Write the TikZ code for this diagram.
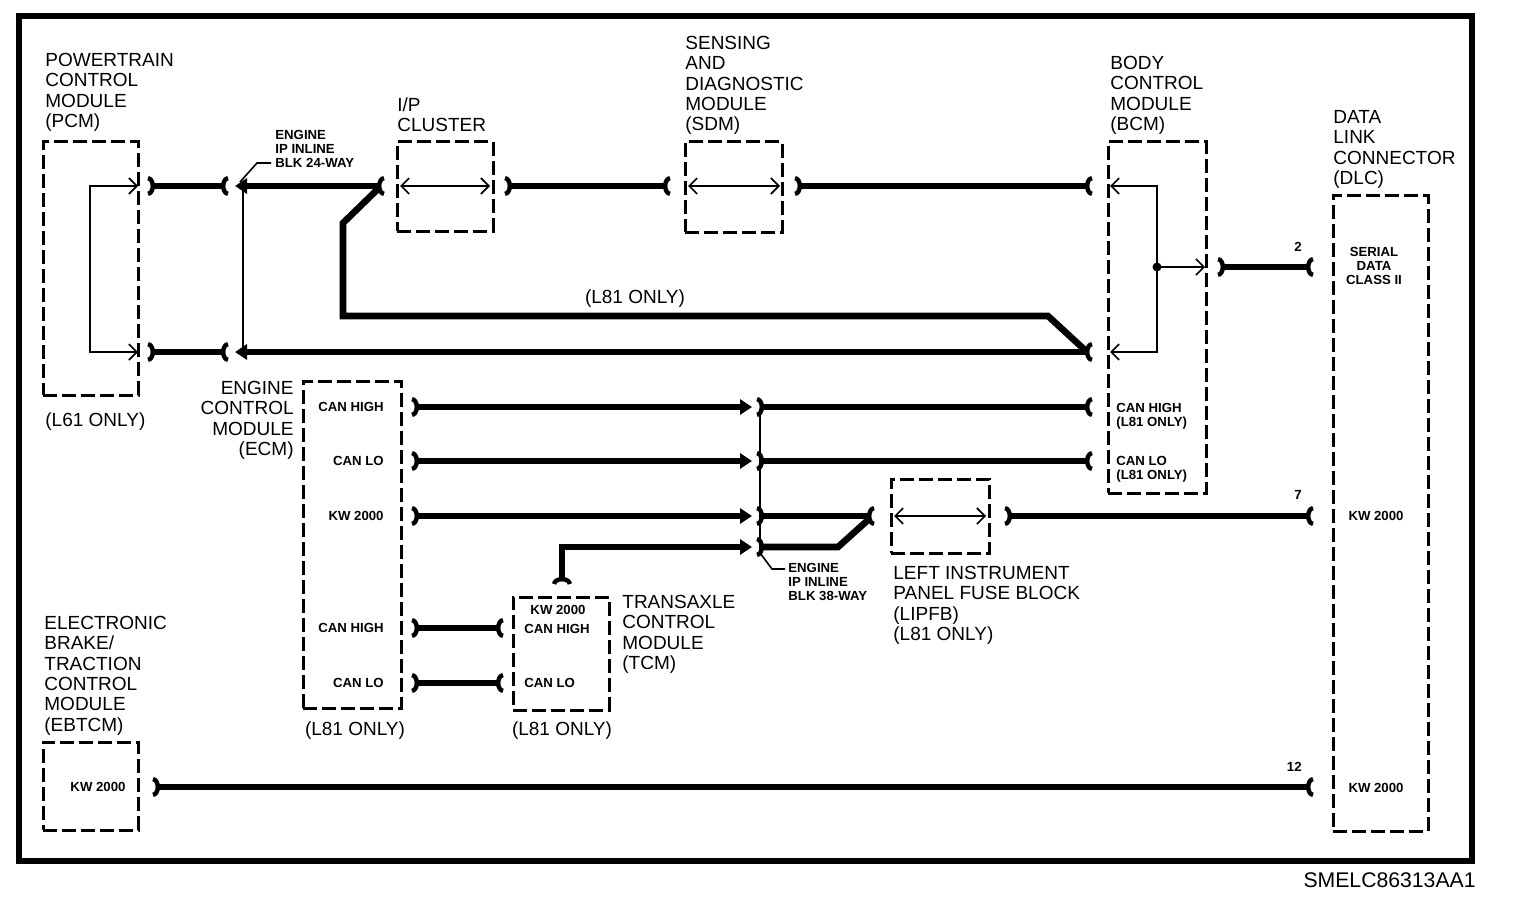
\documentclass[tikz,border=0pt]{standalone}
\usepackage{fontspec}
\setmainfont{Liberation Sans}
\usetikzlibrary{arrows.meta}
\tikzset{>=latex}
\tikzset{fork/.tip={Arc Barb[reversed,length=3.5pt,width=10pt,line width=2.2pt]}}
\tikzset{plug/.tip={Triangle[length=6pt,width=7.5pt]}}
\tikzset{barb/.tip={Straight Barb[length=4pt,width=8pt,line width=0.8pt]}}
\tikzstyle{module}=[rectangle,draw,line width=1.5pt,dash pattern=on 7pt off 2.5pt,inner sep=0pt]
\tikzstyle{wire}=[line width=3.3pt]
\tikzstyle{signal}=[line width=0.8pt]
\tikzstyle{head}=[inner sep=0pt,align=left,font=\fontsize{9.5}{10.15}\selectfont]
\tikzstyle{pinlabel}=[inner sep=0pt,align=left,font=\fontsize{6.6}{7}\selectfont\bfseries]
\tikzstyle{dot}=[circle,fill,inner sep=0pt,minimum size=4.5pt]

\begin{document}
\begin{tikzpicture}[x=0.5pt,y=-0.5pt]
	\useasboundingbox (0,0) rectangle (1520,904);
	\draw[line width=3pt] (19,16) rectangle (1472,861);
	\node[anchor=east,inner sep=0pt,font=\fontsize{10.6}{12}\selectfont] (code) at (1476,880) {SMELC86313AA1};

	\node[module,minimum width=47.5pt,minimum height=126.5pt] (pcm) at (90.5,268.5) {};
	\node[module,minimum width=48pt,minimum height=44.5pt] (ipc) at (445,186.5) {};
	\node[module,minimum width=48.5pt,minimum height=45pt] (sdm) at (733.5,187) {};
	\node[module,minimum width=49pt,minimum height=175.5pt] (bcm) at (1157,317.5) {};
	\node[module,minimum width=47.5pt,minimum height=318pt] (dlc) at (1380.5,513) {};
	\node[module,minimum width=49pt,minimum height=163.5pt] (ecm) at (352,544.5) {};
	\node[module,minimum width=48pt,minimum height=56.5pt] (tcm) at (561,653.5) {};
	\node[module,minimum width=49pt,minimum height=37pt] (lipfb) at (940,516) {};
	\node[module,minimum width=47.5pt,minimum height=44pt] (ebtcm) at (90.5,786) {};

	\node[head,anchor=north west] (pcmname) at (45,53) {POWERTRAIN\\CONTROL\\MODULE\\(PCM)};
	\node[head,anchor=north west] (pcmnote) at (45,412) {(L61 ONLY)};
	\node[head,anchor=north west] (ipcname) at (397,97) {I/P\\CLUSTER};
	\node[head,anchor=north west] (sdmname) at (685,36) {SENSING\\AND\\DIAGNOSTIC\\MODULE\\(SDM)};
	\node[head,anchor=north west] (bcmname) at (1110,56) {BODY\\CONTROL\\MODULE\\(BCM)};
	\node[head,anchor=north west] (dlcname) at (1333,110) {DATA\\LINK\\CONNECTOR\\(DLC)};
	\node[head,anchor=north east,align=right] (ecmname) at (294,381) {ENGINE\\CONTROL\\MODULE\\(ECM)};
	\node[head,anchor=north] (ecmnote) at (355,721) {(L81 ONLY)};
	\node[head,anchor=north west] (tcmname) at (622,595) {TRANSAXLE\\CONTROL\\MODULE\\(TCM)};
	\node[head,anchor=north] (tcmnote) at (562,721) {(L81 ONLY)};
	\node[head,anchor=north west] (lipname) at (893,566) {LEFT INSTRUMENT\\PANEL FUSE BLOCK\\(LIPFB)\\(L81 ONLY)};
	\node[head,anchor=north west] (ebtcmname) at (44,616) {ELECTRONIC\\BRAKE/\\TRACTION\\CONTROL\\MODULE\\(EBTCM)};
	\node[head,anchor=north] (l81note) at (635,289) {(L81 ONLY)};

	\node[pinlabel,anchor=east] (ecmp1) at (384,407) {CAN HIGH};
	\node[pinlabel,anchor=east] (ecmp2) at (384,461) {CAN LO};
	\node[pinlabel,anchor=east] (ecmp3) at (384,516) {KW 2000};
	\node[pinlabel,anchor=east] (ecmp4) at (384,628) {CAN HIGH};
	\node[pinlabel,anchor=east] (ecmp5) at (384,683) {CAN LO};
	\node[pinlabel] (tcmp0) at (558,610) {KW 2000};
	\node[pinlabel,anchor=west] (tcmp1) at (524,629) {CAN HIGH};
	\node[pinlabel,anchor=west] (tcmp2) at (524,683) {CAN LO};
	\node[pinlabel,anchor=north west] (bcmp1) at (1116,403) {CAN HIGH\\(L81 ONLY)};
	\node[pinlabel,anchor=north west] (bcmp2) at (1116,456) {CAN LO\\(L81 ONLY)};
	\node[pinlabel,anchor=north,align=center] (dlcp1) at (1374,247) {SERIAL\\DATA\\CLASS II};
	\node[pinlabel] (dlcp2) at (1376,516) {KW 2000};
	\node[pinlabel] (dlcp3) at (1376,788) {KW 2000};
	\node[pinlabel] (ebtcmp) at (98,787) {KW 2000};
	\node[pinlabel,anchor=north west] (c24) at (275,130) {ENGINE\\IP INLINE\\BLK 24-WAY};
	\node[pinlabel,anchor=north west] (c38) at (788,563) {ENGINE\\IP INLINE\\BLK 38-WAY};
	\node[pinlabel,anchor=east] (n2) at (1302,247) {2};
	\node[pinlabel,anchor=east] (n7) at (1302,495) {7};
	\node[pinlabel,anchor=east] (n12) at (1302,767) {12};

	\coordinate (pcm1) at (138,186);
	\coordinate (pcm2) at (138,352);
	\coordinate (pcmloop) at (90,270);
	\draw[signal,barb-barb] (pcm1) -| (pcmloop) |- (pcm2);

	\coordinate (w1a) at (148,186);
	\coordinate (w1b) at (228,186);
	\coordinate (w2a) at (148,352);
	\coordinate (w2b) at (228,352);
	\draw[wire,fork-fork] (w1a) -- (w1b);
	\draw[wire,fork-fork] (w2a) -- (w2b);

	\coordinate (c24a) at (235,186);
	\coordinate (c24b) at (235,352);
	\coordinate (ipin) at (384,186);
	\coordinate (bcmin2) at (1092,352);
	\draw[wire,plug-fork] (c24a) -- (ipin);
	\draw[wire,plug-fork] (c24b) -- (bcmin2);
	\coordinate (c24top) at (243,190);
	\coordinate (c24bot) at (243,352);
	\draw[signal] (c24top) -- (c24bot);
	\coordinate (c24lead) at (240,182);
	\coordinate (c24bend) at (257,163);
	\coordinate (c24tail) at (271,163);
	\draw[signal] (c24lead) -- (c24bend) -- (c24tail);

	\coordinate (l81a) at (379,188);
	\coordinate (l81b) at (343,223);
	\coordinate (l81c) at (343,316);
	\coordinate (l81d) at (1048,316);
	\coordinate (l81e) at (1087,352);
	\draw[wire] (l81a) -- (l81b) -- (l81c) -- (l81d) -- (l81e);

	\coordinate (ipc1) at (400,186);
	\coordinate (ipc2) at (490,186);
	\draw[signal,barb-barb] (ipc1) -- (ipc2);
	\coordinate (w3a) at (505,186);
	\coordinate (w3b) at (670,186);
	\draw[wire,fork-fork] (w3a) -- (w3b);
	\coordinate (sdm1) at (688,186);
	\coordinate (sdm2) at (780,186);
	\draw[signal,barb-barb] (sdm1) -- (sdm2);
	\coordinate (w4a) at (795,186);
	\coordinate (bcmin1) at (1092,186);
	\draw[wire,fork-fork] (w4a) -- (bcmin1);

	\coordinate (bcm1) at (1110,186);
	\coordinate (bcm2) at (1110,352);
	\coordinate (bcm3) at (1205,267);
	\node[dot] (bcmdot) at (1157,267) {};
	\draw[signal,barb-barb] (bcm1) -| (bcmdot.center) |- (bcm2);
	\draw[signal,-barb] (bcmdot.center) -- (bcm3);
	\coordinate (w5a) at (1218,267);
	\coordinate (dlc2) at (1313,267);
	\draw[wire,fork-fork] (w5a) -- (dlc2);

	\coordinate (ecm1) at (412,407);
	\coordinate (ecm2) at (412,461);
	\coordinate (ecm3) at (412,516);
	\coordinate (c38a) at (752,407);
	\coordinate (c38b) at (752,461);
	\coordinate (c38c) at (752,516);
	\coordinate (c38d) at (752,547);
	\coordinate (tcm0) at (562,584);
	\draw[wire,fork-plug] (ecm1) -- (c38a);
	\draw[wire,fork-plug] (ecm2) -- (c38b);
	\draw[wire,fork-plug] (ecm3) -- (c38c);
	\draw[wire,fork-plug] (tcm0) |- (c38d);

	\coordinate (c38e) at (757,407);
	\coordinate (c38f) at (757,461);
	\coordinate (c38g) at (757,516);
	\coordinate (c38h) at (757,547);
	\coordinate (bcmh) at (1092,407);
	\coordinate (bcml) at (1092,461);
	\coordinate (lip1) at (874,516);
	\coordinate (l81f) at (838,547);
	\coordinate (l81g) at (868,520);
	\draw[wire,fork-fork] (c38e) -- (bcmh);
	\draw[wire,fork-fork] (c38f) -- (bcml);
	\draw[wire,fork-fork] (c38g) -- (lip1);
	\draw[wire,fork-] (c38h) -- (l81f) -- (l81g);
	\coordinate (c38top) at (760,409);
	\coordinate (c38bot) at (760,553);
	\coordinate (c38bend) at (772,569);
	\coordinate (c38tail) at (785,569);
	\draw[signal] (c38top) -- (c38bot) -- (c38bend) -- (c38tail);

	\coordinate (lip2) at (894,516);
	\coordinate (lip3) at (986,516);
	\draw[signal,barb-barb] (lip2) -- (lip3);
	\coordinate (w7a) at (1005,516);
	\coordinate (dlc7) at (1313,516);
	\draw[wire,fork-fork] (w7a) -- (dlc7);

	\coordinate (ecm4) at (412,628);
	\coordinate (ecm5) at (412,683);
	\coordinate (tcm1) at (503,628);
	\coordinate (tcm2) at (503,683);
	\draw[wire,fork-fork] (ecm4) -- (tcm1);
	\draw[wire,fork-fork] (ecm5) -- (tcm2);

	\coordinate (w12a) at (153,787);
	\coordinate (dlc12) at (1313,787);
	\draw[wire,fork-fork] (w12a) -- (dlc12);
\end{tikzpicture}
\end{document}
